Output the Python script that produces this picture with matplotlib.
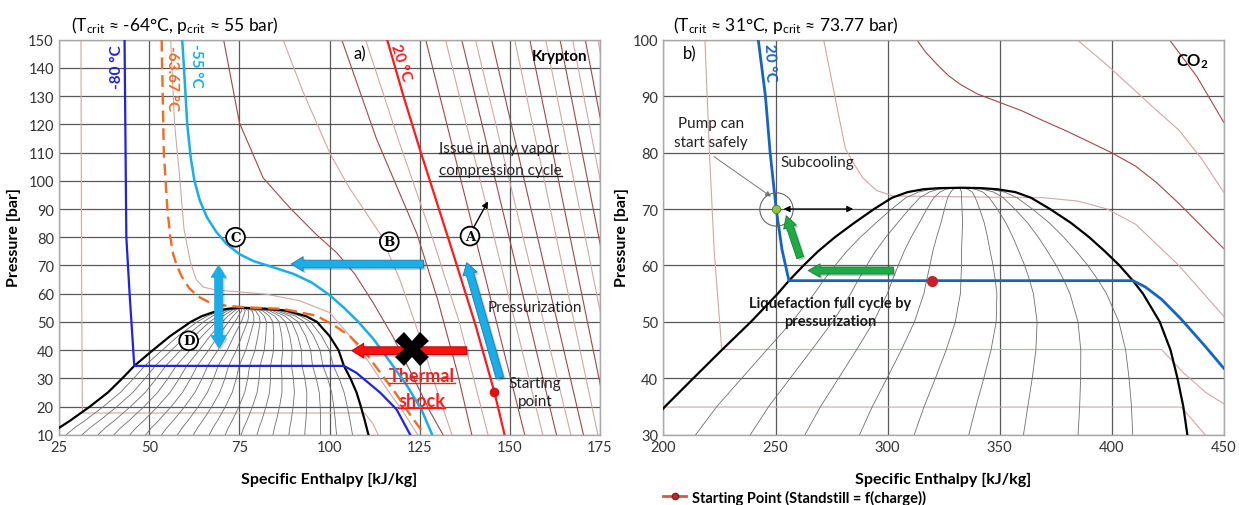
import numpy as np
import matplotlib
matplotlib.use('Agg')
import matplotlib.pyplot as plt
from matplotlib.patches import FancyArrowPatch
from matplotlib.lines import Line2D
import matplotlib.patheffects as pe

plt.rcParams['font.family'] = ['Lato', 'DejaVu Sans']
plt.rcParams['mathtext.fontset'] = 'custom'
plt.rcParams['mathtext.rm'] = 'Lato'
plt.rcParams['mathtext.it'] = 'Lato:italic'
plt.rcParams['mathtext.bf'] = 'Lato:bold'

# ---------------- Krypton (left) ----------------
kr_dome_p = [10, 12.5, 15, 20, 25, 30, 34.4, 40, 45, 50, 52, 54, 54.7, 55]
kr_dome_hl = [22.5, 25, 28, 33.5, 38.5, 42.5, 45.8, 51, 55.8, 61.5, 64.5, 69, 72, 76]
kr_dome_hv = [110.8, 110.3, 109.8, 108.7, 107.5, 105.8, 104, 102.5, 100, 96.5, 93.5, 88, 82, 76]
kr_quality = np.arange(1, 20) / 20          # x = 0.05 ... 0.95

kr_m80_h = [43.1, 43.6, 44.5, 45.8, 104, 107.4, 114, 118.6, 122.4]
kr_m80_p = [150, 80, 60, 34.4, 34.4, 32, 25, 19, 10]
kr_m6367_h = [53.4, 54, 55, 55.8, 56.6, 57.6, 59, 61, 63.5, 66.5, 70, 76, 87.1, 96.3, 101, 105.5, 109.5,
              112.7, 118.2, 122.6, 126.4]
kr_m6367_p = [150, 110, 90, 80, 74, 70, 66, 62, 59, 57, 55.9, 55.2, 54.6, 52.2, 49, 45.1, 40, 34.4, 25, 16.7, 10]
kr_m55_h = [59.1, 59.6, 60.5, 61.5, 62.5, 64, 66, 68.5, 71.5, 75, 79, 84, 90, 95, 100, 104, 108, 112.2, 117,
            121.5, 125.5, 128.5]
kr_m55_p = [150, 140, 120, 108, 100, 93, 87, 82, 77.5, 74, 71.5, 69.5, 67, 64, 59.5, 55, 50, 43.9, 35.5, 27.4,
            19, 10]
kr_20_h = [116, 120.3, 124.8, 129.7, 134.6, 140.5, 145.8, 148.6]
kr_20_p = [150, 131, 112.3, 92.7, 73.1, 49, 25, 10]

# background isotherms (thin), (h, p, dark?)
kr_bg = [
    ([31, 31.2, 31.4, 109.7, 112, 113.5], [150, 60, 17.7, 17.7, 14, 10], False),
    ([55.9, 57, 58.5, 59.6, 61.4, 63, 65, 68.5, 73.3, 82.5, 91.7, 100, 105, 110, 115.5, 120.5, 124.5],
     [150, 120, 100, 82.9, 71.1, 65, 62.3, 61.3, 60.8, 59.8, 57.5, 53.3, 46, 37.5, 27, 18, 10], False),
    ([70.6, 75, 81.6, 89, 96.3, 102, 107, 112, 117.5, 123, 128, 131.5],
     [150, 120.5, 101, 90.4, 81, 74.5, 67, 57, 45, 31, 18, 10], True),
    ([87.1, 92.6, 100.2, 105.5, 114.1, 119.5, 125, 130, 134], [150, 131.7, 109.5, 97.5, 81.1, 65, 45, 25, 10], False),
    ([103.4, 113, 124.3, 130, 135.5, 139.5], [150, 115, 81.1, 58, 32, 10], True),
    ([110, 119, 128.5, 136, 141, 144], [150, 115, 80, 50, 25, 10], False),
]
kr_vap_top = [126.7, 132.2, 136.7, 140.5, 145, 151.4, 155.6, 160, 164, 167.5, 171, 174.5]
kr_vap_bot = [154.2, 159.2, 163, 167, 170.5, 174.5, 178, 182, 185.5, 189, 192, 195]

kr_start = (145.8, 25)

# ---------------- CO2 (right) ----------------
co2_dome_p = [30, 35, 40, 45, 50, 55, 57.3, 60, 62.5, 65, 67.5, 70, 72, 73, 73.5, 73.7, 73.77]
co2_dome_hl = [190, 200.7, 213.3, 226, 239, 251, 256, 262.5, 269, 276.5, 285, 294, 302, 309, 316, 323, 333]
co2_dome_hv = [433.8, 432, 429.4, 426.3, 421.5, 414, 409.5, 403.5, 397, 390, 382, 372.5, 364, 357, 349, 342, 333]
co2_quality = np.arange(1, 10) / 10         # x = 0.1 ... 0.9

co2_20_h = [242.3, 245.5, 247.6, 250.3, 252.9, 256, 409.5, 415, 422.3, 431, 441.7, 450]
co2_20_p = [100, 90, 80, 70, 62.8, 57.3, 57.3, 56.2, 54, 50.5, 45.7, 41.8]

co2_bg = [
    ([218.5, 220.5, 222.6, 226, 422.3, 432, 442, 450], [100, 80, 62.8, 45.1, 45.1, 41, 37.5, 35.5], False),
    ([200, 431.1, 441.7], [34.9, 34.9, 30], False),
    ([271.5, 276.7, 281.2, 285, 289, 295, 302.5, 369.7, 385, 398, 410.7, 430, 450],
     [100, 89.5, 80.7, 78, 75.5, 73.3, 72.3, 72.0, 71.4, 70, 67.3, 60, 51], False),
    ([313, 317, 321.9, 327, 332.4, 340, 350, 360, 369.7, 380, 390, 399.9, 410.7, 420, 430, 440, 450],
     [100, 97.8, 95.7, 93.7, 92.1, 90.4, 88.9, 87.4, 85.6, 83.8, 81.9, 80, 77.6, 74.7, 71, 67, 63], True),
    ([384.6, 398, 410.7, 420, 430, 440, 450], [100, 95.5, 90.9, 87.5, 84, 79, 73], False),
    ([425.8, 438, 450], [100, 93.5, 85.4], True),
]
co2_start = (320, 57.3)
co2_safe = (250.2, 70)

DARK_ISO = '#a04848'
LIGHT_ISO = '#d2a6a6'
GRID = '#3c3c3c'
LBLUE = '#18aee8'


def block_arrow(ax, x0, y0, x1, y1, fc, ec, tail=0.55, hw=1.05, hl=0.85, z=6, shadow=True):
    a = FancyArrowPatch((x0, y0), (x1, y1),
                        arrowstyle=f'simple,head_length={hl},head_width={hw},tail_width={tail}',
                        mutation_scale=10, fc=fc, ec=ec, lw=0.7, shrinkA=0, shrinkB=0, zorder=z)
    if shadow:
        a.set_path_effects([pe.SimplePatchShadow(offset=(1.5, -1.5), alpha=0.25), pe.Normal()])
    ax.add_patch(a)


def circ_label(ax, x, y, s):
    ax.text(x, y, s, family='DejaVu Serif', fontweight='bold', fontsize=9.5, ha='center', va='center',
            zorder=8, bbox=dict(boxstyle='circle,pad=0.22', fc='white', ec='black', lw=1.3))


def style_axes(ax, xt, yt):
    ax.set_xticks(xt)
    ax.set_yticks(yt)
    ax.set_xlim(xt[0], xt[-1])
    ax.set_ylim(yt[0], yt[-1])
    ax.grid(True, color=GRID, lw=0.9, alpha=0.85)
    ax.set_axisbelow(True)
    ax.tick_params(length=0, labelsize=10.5, colors='#333333', pad=4)
    for s in ax.spines.values():
        s.set_color('#a8a8a8')
        s.set_linewidth(1.0)


def draw_dome(ax, p, hl, hv, qual, lw_q=0.6):
    p = np.array(p)
    hl = np.array(hl)
    hv = np.array(hv)
    for x in qual:
        ax.plot(hl + x * (hv - hl), p, color='#6e6e6e', lw=lw_q, zorder=2)
    ax.plot(np.r_[hl, hv[::-1]], np.r_[p, p[::-1]], color='black', lw=1.6, zorder=4)


fig = plt.figure(figsize=(12.39, 5.06), dpi=100)
ax1 = fig.add_axes([0.0479, 0.1389, 0.4361, 0.7806])
ax2 = fig.add_axes([0.5355, 0.1389, 0.4521, 0.7806])

# ---------- left panel ----------
style_axes(ax1, [25, 50, 75, 100, 125, 150, 175], list(range(10, 151, 10)))
for h, p, dark in kr_bg:
    ax1.plot(h, p, color=DARK_ISO if dark else LIGHT_ISO, lw=0.8, zorder=2)
for i, (t, b) in enumerate(zip(kr_vap_top, kr_vap_bot)):
    ax1.plot([t, b], [150, 10], color=DARK_ISO if i % 2 == 0 else LIGHT_ISO, lw=0.8, zorder=2)
draw_dome(ax1, kr_dome_p, kr_dome_hl, kr_dome_hv, kr_quality)
ax1.plot(kr_m80_h, kr_m80_p, color='#1e22e6', lw=1.6, zorder=5)
ax1.plot(kr_m6367_h, kr_m6367_p, color='#f26b21', lw=1.7, ls=(0, (5, 2.5)), zorder=5)
ax1.plot(kr_m55_h, kr_m55_p, color=LBLUE, lw=1.8, zorder=5)
ax1.plot(kr_20_h, kr_20_p, color='#ff1a1a', lw=1.6, zorder=5)
ax1.plot(*kr_start, 'o', color='#e01010', ms=6, zorder=7)

ax1.text(40.9, 140.8, '-80 °C', color='#1e22e6', rotation=90, fontsize=11, fontweight='bold', ha='center', va='center')
ax1.text(56.3, 136.5, '-63.67 °C', color='#f26b21', rotation=-90, fontsize=11, fontweight='bold', ha='center', va='center')
ax1.text(62.8, 141.2, '-55 °C', color=LBLUE, rotation=-90, fontsize=11, fontweight='bold', ha='center', va='center')
ax1.text(119.8, 142, '20 °C', color='#ff1a1a', rotation=-72, fontsize=11, fontweight='bold', ha='center', va='center')
ax1.text(108.4, 145, 'a)', fontsize=12, ha='center', va='center')
ax1.text(171.6, 144.3, 'Krypton', fontsize=11, fontweight='bold', ha='right', va='center')

t_issue1 = ax1.text(130.5, 111.8, 'Issue in any vapor', fontsize=11, ha='left', va='center', color='#222222')
t_issue2 = ax1.text(130.5, 103.7, 'compression cycle', fontsize=11, ha='left', va='center', color='#222222')
ax1.annotate('', xy=(144, 92.7), xytext=(139.6, 82.5),
             arrowprops=dict(arrowstyle='-|>', color='black', lw=1.0, mutation_scale=9, shrinkA=0, shrinkB=0))
ax1.text(143.9, 55.2, 'Pressurization', fontsize=11, ha='left', va='center', color='#222222')
ax1.text(157, 25.2, 'Starting\npoint', fontsize=11, ha='center', va='center', linespacing=1.35, color='#222222')
t_th1 = ax1.text(125.6, 30.9, 'Thermal', fontsize=13, fontweight='bold', color='#ff1a1a', ha='center', va='center')
t_th2 = ax1.text(125.6, 22, 'shock', fontsize=13, fontweight='bold', color='#ff1a1a', ha='center', va='center')

block_arrow(ax1, 126.1, 70.5, 89.4, 70.5, LBLUE, '#2a7fb5')
block_arrow(ax1, 147.3, 30.1, 138.1, 71, LBLUE, '#2a7fb5')
block_arrow(ax1, 69.2, 55.4, 69.2, 70, LBLUE, LBLUE)
block_arrow(ax1, 69.2, 55.4, 69.2, 40.9, LBLUE, LBLUE)
block_arrow(ax1, 138.1, 39.8, 106.2, 39.8, '#ff1010', '#c00000')
ax1.plot(122.9, 40.4, marker='X', ms=24, color='black', mew=0, zorder=9)

circ_label(ax1, 139, 80.4, 'A')
circ_label(ax1, 116.6, 78.4, 'B')
circ_label(ax1, 73.9, 80, 'C')
circ_label(ax1, 60.9, 43.3, 'D')

# ---------- right panel ----------
style_axes(ax2, [200, 250, 300, 350, 400, 450], list(range(30, 101, 10)))
for h, p, dark in co2_bg:
    ax2.plot(h, p, color=DARK_ISO if dark else LIGHT_ISO, lw=0.8, zorder=2)
draw_dome(ax2, co2_dome_p, co2_dome_hl, co2_dome_hv, co2_quality)
ax2.plot(co2_20_h, co2_20_p, color='#1565c0', lw=2.0, zorder=5)
ax2.plot(*co2_start, 'o', color='#c8202a', ms=7, zorder=7)
ax2.plot(*co2_safe, 'o', ms=24, mfc='none', mec='#666666', mew=0.8, zorder=6)
ax2.plot(*co2_safe, 'o', ms=6, mfc='#8cc63f', mec='#4a7a20', mew=0.6, zorder=7)

ax2.text(247.6, 96, '20 °C', color='#1565c0', rotation=-88, fontsize=11, fontweight='bold', ha='center', va='center')
ax2.text(211.5, 97.5, 'b)', fontsize=12, ha='center', va='center')
ax2.text(443.5, 96.3, r'CO$_\mathbf{2}$', fontsize=12, fontweight='bold', ha='right', va='center')
ax2.text(221.2, 83.5, 'Pump can\nstart safely', fontsize=11, ha='center', va='center', linespacing=1.45, color='#222222')
ax2.text(252, 78.3, 'Subcooling', fontsize=11, ha='left', va='center', color='#222222')
ax2.text(274.4, 51.8, 'Liquefaction full cycle by\npressurization', fontsize=10.5, fontweight='bold', ha='center',
         va='center', linespacing=1.4, color='#1a1a1a')
ax2.annotate('', xy=(248, 72.2), xytext=(222.5, 79.3),
             arrowprops=dict(arrowstyle='-|>', color='#777777', lw=0.7, mutation_scale=8, shrinkA=0, shrinkB=0))
ax2.annotate('', xy=(253.6, 70), xytext=(284.7, 70),
             arrowprops=dict(arrowstyle='<|-|>', color='black', lw=0.9, mutation_scale=9, shrinkA=0, shrinkB=0),
             zorder=8)
block_arrow(ax2, 302.6, 59.1, 264.6, 59.1, '#1faa48', '#138a36', tail=0.5, hw=0.95)
block_arrow(ax2, 261, 61.4, 254.8, 68.8, '#1faa48', '#138a36', tail=0.5, hw=0.95)

# ---------- figure texts ----------
fig.text(71 / 1239, 1 - 25 / 506, r'(T$_{\rm crit}$ ≈ -64°C, p$_{\rm crit}$ ≈ 55 bar)', fontsize=12.5, va='center')
fig.text(673 / 1239, 1 - 25 / 506, r'(T$_{\rm crit}$ ≈ 31°C, p$_{\rm crit}$ ≈ 73.77 bar)', fontsize=12.5, va='center')
fig.text(329.5 / 1239, 1 - 480 / 506, 'Specific Enthalpy [kJ/kg]', fontsize=11.5, fontweight='bold', ha='center', va='center')
fig.text(943.5 / 1239, 1 - 480 / 506, 'Specific Enthalpy [kJ/kg]', fontsize=11.5, fontweight='bold', ha='center', va='center')
fig.text(14 / 1239, 1 - 238 / 506, 'Pressure [bar]', fontsize=11.5, fontweight='bold', rotation=90, ha='center', va='center')
fig.text(622 / 1239, 1 - 238 / 506, 'Pressure [bar]', fontsize=11.5, fontweight='bold', rotation=90, ha='center', va='center')

handle = Line2D([], [], color='#d9534f', lw=2, marker='o', ms=4.5, mfc='#c0272d', mec='#8b1a1a')
fig.legend([handle], ['Starting Point (Standstill = f(charge))'], loc='center left',
           bbox_to_anchor=(657 / 1239, 8 / 506), frameon=False, handlelength=1.6, handletextpad=0.4,
           borderaxespad=0, prop={'weight': 'bold', 'size': 10.5})

# underlines
fig.canvas.draw()
for t, col in [(t_issue1, '#222222'), (t_issue2, '#222222'), (t_th1, '#ff1a1a'), (t_th2, '#ff1a1a')]:
    bb = t.get_window_extent().transformed(fig.transFigure.inverted())
    y = bb.y0 + 0.1 * (bb.y1 - bb.y0)
    fig.add_artist(Line2D([bb.x0, bb.x1], [y, y], color=col, lw=1.0, transform=fig.transFigure))

fig.savefig('out.png', dpi=100)
